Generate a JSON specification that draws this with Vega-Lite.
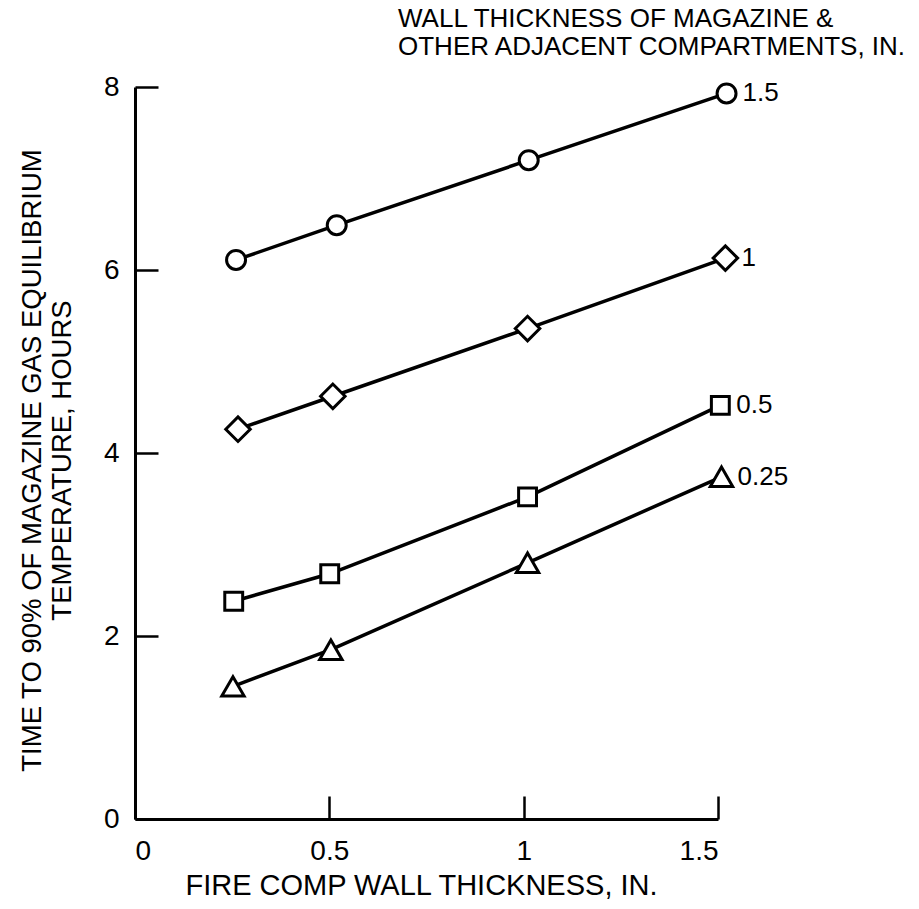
{
  "$schema": "https://vega.github.io/schema/vega-lite/v6.json",
  "width": 583,
  "height": 732,
  "autosize": {"type": "none"},
  "padding": {"left": 135, "top": 87, "right": 201, "bottom": 90},
  "background": "white",
  "config": {"view": {"stroke": null}, "font": "Liberation Sans"},
  "title": {
    "text": ["WALL THICKNESS OF MAGAZINE &", "OTHER ADJACENT COMPARTMENTS, IN."],
    "anchor": "start",
    "frame": "group",
    "dx": 263,
    "offset": 13,
    "fontSize": 26,
    "lineHeight": 28,
    "fontWeight": "normal",
    "color": "black"
  },
  "data": {
    "values": [
      {"series": "1.5", "x": 0.26, "y": 6.11},
      {"series": "1.5", "x": 0.519, "y": 6.49},
      {"series": "1.5", "x": 1.013, "y": 7.2},
      {"series": "1.5", "x": 1.522, "y": 7.93},
      {"series": "1", "x": 0.265, "y": 4.26},
      {"series": "1", "x": 0.509, "y": 4.62},
      {"series": "1", "x": 1.01, "y": 5.36},
      {"series": "1", "x": 1.519, "y": 6.13},
      {"series": "0.5", "x": 0.254, "y": 2.38},
      {"series": "0.5", "x": 0.501, "y": 2.68},
      {"series": "0.5", "x": 1.01, "y": 3.52},
      {"series": "0.5", "x": 1.506, "y": 4.52},
      {"series": "0.25", "x": 0.252, "y": 1.45},
      {"series": "0.25", "x": 0.504, "y": 1.85},
      {"series": "0.25", "x": 1.01, "y": 2.8},
      {"series": "0.25", "x": 1.509, "y": 3.74}
    ]
  },
  "encoding": {
    "x": {
      "field": "x",
      "type": "quantitative",
      "scale": {"domain": [0, 1.5], "nice": false, "zero": false},
      "axis": {
        "values": [0, 0.5, 1, 1.5],
        "format": "~g",
        "title": "FIRE COMP WALL THICKNESS, IN.",
        "grid": false,
        "tickSize": -23,
        "tickWidth": 2.5,
        "tickColor": "black",
        "domainColor": "black",
        "domainWidth": 3,
        "labelPadding": 41,
        "labelFontSize": 28,
        "labelColor": "black",
        "titleFontSize": 29,
        "titleFontWeight": "normal",
        "titleColor": "black",
        "titleX": 286,
        "titleY": 66,
        "titleBaseline": "middle",
        "titleAlign": "center"
      }
    },
    "y": {
      "field": "y",
      "type": "quantitative",
      "scale": {"domain": [0, 8], "nice": false, "zero": false},
      "axis": {
        "values": [0, 2, 4, 6, 8],
        "format": "d",
        "title": ["TIME TO 90% OF MAGAZINE GAS EQUILIBRIUM", "TEMPERATURE, HOURS"],
        "grid": false,
        "tickSize": -23,
        "tickWidth": 2.5,
        "tickColor": "black",
        "domainColor": "black",
        "domainWidth": 3,
        "labelPadding": 39,
        "labelFontSize": 28,
        "labelColor": "black",
        "titleFontSize": 27.5,
        "titleFontWeight": "normal",
        "titleColor": "black",
        "titleLineHeight": 30,
        "titleAngle": -90,
        "titleX": -103,
        "titleY": 373,
        "titleBaseline": "middle",
        "titleAlign": "center"
      }
    }
  },
  "layer": [
    {
      "mark": {"type": "line", "color": "black", "strokeWidth": 3.5},
      "encoding": {"detail": {"field": "series"}}
    },
    {
      "mark": {"type": "point", "filled": true, "fill": "white", "stroke": "black", "strokeWidth": 3, "opacity": 1},
      "encoding": {
        "shape": {
          "field": "series",
          "scale": {"domain": ["1.5", "1", "0.5", "0.25"], "range": ["circle", "diamond", "square", "triangle-up"]},
          "legend": null
        },
        "size": {
          "condition": [
            {"test": "datum.series === '1'", "value": 600},
            {"test": "datum.series === '0.5'", "value": 320},
            {"test": "datum.series === '0.25'", "value": 500}
          ],
          "value": 360
        }
      }
    },
    {
      "transform": [{"filter": "datum.x > 1.4"}],
      "mark": {"type": "text", "align": "left", "baseline": "middle", "dx": 16, "fontSize": 26, "color": "black"},
      "encoding": {"text": {"field": "series"}}
    }
  ]
}
